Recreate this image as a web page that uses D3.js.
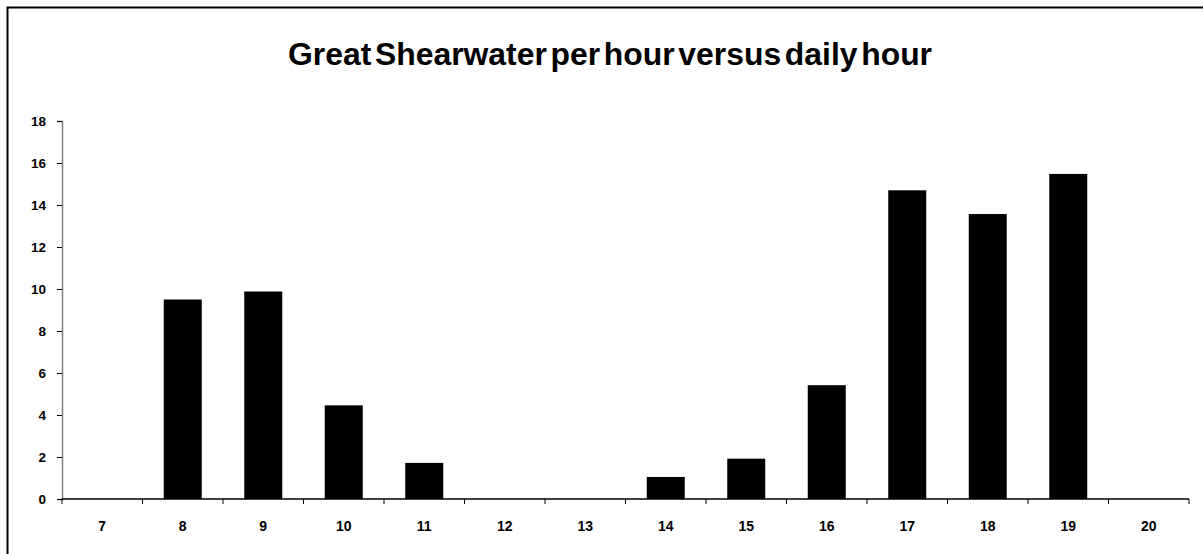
<!DOCTYPE html>
<html><head><meta charset="utf-8">
<script src="https://cdn.jsdelivr.net/npm/d3@7"></script>
<style>body{margin:0;background:#fff;} svg{display:block;}</style>
</head><body>
<svg id="chart" width="1203" height="554"></svg>
<script>
const hours = ["7","8","9","10","11","12","13","14","15","16","17","18","19","20"];
const perHour = [0, 9.5, 9.88, 4.46, 1.72, 0, 0, 1.05, 1.92, 5.42, 14.7, 13.57, 15.48, 0];
const yTicks = [0,2,4,6,8,10,12,14,16,18];
const title = "Great Shearwater per hour versus daily hour";

const svg = d3.select("#chart");
const W = 1203, H = 554;
const m = {left: 62, right: 1189, top: 121, bottom: 499};
const font = "Liberation Sans, Arial, sans-serif";

svg.append("rect").attr("x", 7.5).attr("y", 7.5).attr("width", W + 10).attr("height", H + 10)
  .attr("fill", "#fff").attr("stroke", "#000").attr("stroke-width", 2);

svg.append("text").attr("x", 288).attr("y", 65)
  .attr("font-family", font).attr("font-weight", "bold")
  .attr("font-size", 31).attr("textLength", 644).attr("lengthAdjust", "spacingAndGlyphs")
  .attr("word-spacing", -5).attr("fill", "#000").text(title);

const x = d3.scaleBand().domain(hours).range([m.left, m.right]).padding(0);
const y = d3.scaleLinear().domain([0, 18]).range([m.bottom, m.top]);
const barW = 38;

svg.append("g").selectAll("rect").data(hours.map((h, i) => ({h, v: perHour[i]})).filter(d => d.v > 0))
  .join("rect")
  .attr("x", d => x(d.h) + x.bandwidth() / 2 - barW / 2)
  .attr("y", d => y(d.v))
  .attr("width", barW)
  .attr("height", d => y(0) - y(d.v))
  .attr("fill", "#000");

const yAxis = svg.append("g").attr("transform", `translate(${m.left},0)`)
  .call(d3.axisLeft(y).tickValues(yTicks).tickSize(5).tickPadding(11).tickFormat(d3.format("d")));
yAxis.select(".domain").attr("stroke", "#808080").attr("stroke-width", 1.5);
yAxis.selectAll(".tick line").attr("stroke", "#000");
yAxis.selectAll("text").style("font-family", font)
  .style("font-weight", "bold").style("font-size", "13.5px").attr("fill", "#000");

const xAxis = svg.append("g").attr("transform", `translate(0,${m.bottom})`)
  .call(d3.axisBottom(x).tickSize(0).tickPadding(22));
xAxis.select(".domain").remove();
xAxis.selectAll("text").style("font-family", font)
  .style("font-weight", "bold").style("font-size", "14px").attr("fill", "#000");
svg.append("line").attr("x1", m.left).attr("x2", m.right).attr("y1", m.bottom).attr("y2", m.bottom)
  .attr("stroke", "#000").attr("stroke-width", 1.5);
const bounds = hours.map(h => x(h)).concat([m.right]);
svg.append("g").selectAll("line").data(bounds).join("line")
  .attr("x1", d => d).attr("x2", d => d).attr("y1", m.bottom).attr("y2", m.bottom + 5)
  .attr("stroke", "#000").attr("stroke-width", 1);
</script>
</body></html>
